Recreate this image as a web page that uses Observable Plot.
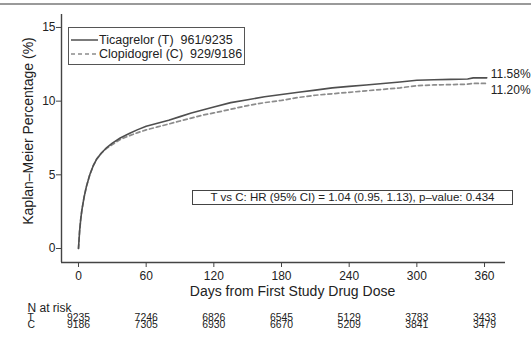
<!DOCTYPE html>
<html><head><meta charset="utf-8">
<script src="https://cdn.jsdelivr.net/npm/d3@7"></script>
<script src="https://cdn.jsdelivr.net/npm/@observablehq/plot@0.6"></script>
<style>
body{margin:0;background:#fff;font-family:"Liberation Sans",Arial,Helvetica,sans-serif;color:#222;}
#wrap{position:relative;width:531px;height:340px;overflow:hidden;background:#fff;}
#topbar{position:absolute;left:0;top:3px;width:531px;height:2px;background:#9a9a9a;}
.legend{position:absolute;left:68px;top:27px;width:177px;height:38px;box-sizing:border-box;border:1px solid #555;background:#fff;font-size:12.5px;color:#222;}
.legend .row{position:absolute;left:1px;height:14px;line-height:14px;white-space:nowrap;display:flex;align-items:center;}
.legend svg{display:block;margin-right:1px;}
.hr{position:absolute;left:192px;top:190px;width:321px;height:15px;box-sizing:border-box;border:1px solid #444;background:#fff;font-size:11.5px;line-height:13px;text-align:center;white-space:nowrap;color:#222;}
.ylab{position:absolute;width:220px;height:18px;line-height:18px;left:17.5px;top:122px;margin-left:-100px;text-align:center;font-size:14px;white-space:nowrap;transform:rotate(-90deg);transform-origin:50% 50%;color:#222;}
</style></head>
<body>
<div id="wrap"><div id="topbar"></div></div>
<script>
// ---- data ----
const days        = [0, 1, 2, 3, 5, 7, 10, 13, 16, 20, 25, 30, 37, 45, 52, 60, 70, 80, 90, 100, 110, 120, 135, 150, 165, 180, 195, 210, 225, 240, 255, 270, 285, 300, 315, 330, 345, 350, 362];
const ticagrelor  = [0, 1.2, 2.0, 2.6, 3.5, 4.2, 5.0, 5.6, 6.05, 6.45, 6.85, 7.15, 7.5, 7.8, 8.05, 8.3, 8.5, 8.7, 8.95, 9.2, 9.4, 9.6, 9.9, 10.1, 10.3, 10.45, 10.6, 10.75, 10.9, 11.0, 11.1, 11.2, 11.3, 11.42, 11.45, 11.48, 11.5, 11.58, 11.58];
const clopidogrel = [0, 1.2, 2.0, 2.6, 3.5, 4.2, 5.0, 5.6, 6.05, 6.45, 6.8, 7.05, 7.4, 7.65, 7.85, 8.05, 8.25, 8.45, 8.65, 8.85, 9.05, 9.2, 9.45, 9.7, 9.9, 10.05, 10.25, 10.4, 10.5, 10.6, 10.7, 10.8, 10.9, 11.05, 11.1, 11.12, 11.15, 11.2, 11.2];
const xTicks = [0, 60, 120, 180, 240, 300, 360];
const yTicks = [0, 5, 10, 15];
const riskT = [9235, 7246, 6826, 6545, 5129, 3783, 3433];
const riskC = [9186, 7305, 6930, 6670, 5209, 3841, 3479];
const seriesNames = ["Ticagrelor (T)", "Clopidogrel (C)"];
const seriesEvents = ["961/9235", "929/9186"];
const endLabels = ["11.58%", "11.20%"];
const groupCodes = ["T", "C"];
const hrText = "T vs C: HR (95% CI) = 1.04 (0.95, 1.13), p\u2013value: 0.434";
const yLabel = "Kaplan\u2013Meier Percentage (%)";
const xLabel = "Days from First Study Drug Dose";
const riskTitle = "N at risk";

const colT = "#4f4f4f", colC = "#8c8c8c";
const last = days.length - 1;
const xDom = [-15.07, 378.6], yDom = [-0.95, 15.88];
const rowFont = 10.4;

const plot = Plot.plot({
  width: 531, height: 340,
  marginLeft: 61, marginRight: 26, marginTop: 14, marginBottom: 78,
  style: {fontFamily: "'Liberation Sans', Arial, Helvetica, sans-serif", fontSize: "12px", color: "#222", background: "transparent"},
  x: {domain: xDom},
  y: {domain: yDom},
  marks: [
    Plot.ruleX([xDom[0]], {stroke: "#444", strokeWidth: 1.4}),
    Plot.ruleY([yDom[0]], {stroke: "#444", strokeWidth: 1.4}),
    Plot.axisY(yTicks, {tickSize: 5, tickPadding: 1, label: null, stroke: "#444", fontSize: 12}),
    Plot.axisX(xTicks, {tickSize: 5, tickPadding: 4, label: null, stroke: "#444", fontSize: 12}),
    Plot.line(clopidogrel, {x: (d, i) => days[i], y: d => d, stroke: colC, strokeWidth: 1.7, strokeDasharray: "4,3"}),
    Plot.line(ticagrelor, {x: (d, i) => days[i], y: d => d, stroke: colT, strokeWidth: 1.6}),
    Plot.text([endLabels[0]], {x: () => days[last], y: () => ticagrelor[last], text: d => d, textAnchor: "start", dx: 4, dy: -3.5, fontSize: 12, fill: "#222"}),
    Plot.text([endLabels[1]], {x: () => days[last], y: () => clopidogrel[last], text: d => d, textAnchor: "start", dx: 4, dy: 7, fontSize: 12, fill: "#222"}),
    Plot.text([xLabel], {frameAnchor: "bottom", lineAnchor: "bottom", text: d => d, dx: 9, dy: 33, fontSize: 14, fill: "#222"}),
    Plot.text([riskTitle], {frameAnchor: "bottom-left", lineAnchor: "bottom", text: d => d, textAnchor: "start", dx: -34, dy: 49, fontSize: 12, fill: "#222"}),
    Plot.text([groupCodes[0]], {frameAnchor: "bottom-left", lineAnchor: "bottom", text: d => d, textAnchor: "start", dx: -34, dy: 58, fontSize: rowFont, fill: "#222", ariaLabel: "risk"}),
    Plot.text([groupCodes[1]], {frameAnchor: "bottom-left", lineAnchor: "bottom", text: d => d, textAnchor: "start", dx: -34, dy: 65.3, fontSize: rowFont, fill: "#222", ariaLabel: "risk"}),
    Plot.text(riskT, {x: (d, i) => xTicks[i], text: d => String(d), frameAnchor: "bottom", lineAnchor: "bottom", dy: 58, fontSize: rowFont, fill: "#222", ariaLabel: "risk"}),
    Plot.text(riskC, {x: (d, i) => xTicks[i], text: d => String(d), frameAnchor: "bottom", lineAnchor: "bottom", dy: 65.3, fontSize: rowFont, fill: "#222", ariaLabel: "risk"})
  ]
});
d3.select(plot).selectAll('g[aria-label="risk"] text').style("letter-spacing", "1.2px");
const wrap = document.getElementById("wrap");
plot.style.position = "absolute"; plot.style.left = "0"; plot.style.top = "0";
wrap.appendChild(plot);

// y label
const yl = document.createElement("div");
yl.className = "ylab";
yl.textContent = yLabel;
wrap.appendChild(yl);

// legend
const lg = document.createElement("div");
lg.className = "legend";
seriesNames.forEach((name, i) => {
  const row = document.createElement("div");
  row.className = "row";
  row.style.top = (i === 0 ? 5 : 19) + "px";
  const dash = i === 0 ? "" : ' stroke-dasharray="4,3"';
  row.innerHTML = `<svg width="28" height="10"><line x1="1" x2="28" y1="5" y2="5" stroke="${i === 0 ? colT : colC}" stroke-width="1.5"${dash}/></svg><span>${name}&nbsp;&nbsp;${seriesEvents[i]}</span>`;
  lg.appendChild(row);
});
wrap.appendChild(lg);

const hr = document.createElement("div");
hr.className = "hr";
hr.textContent = hrText;
wrap.appendChild(hr);
</script>
</body></html>
